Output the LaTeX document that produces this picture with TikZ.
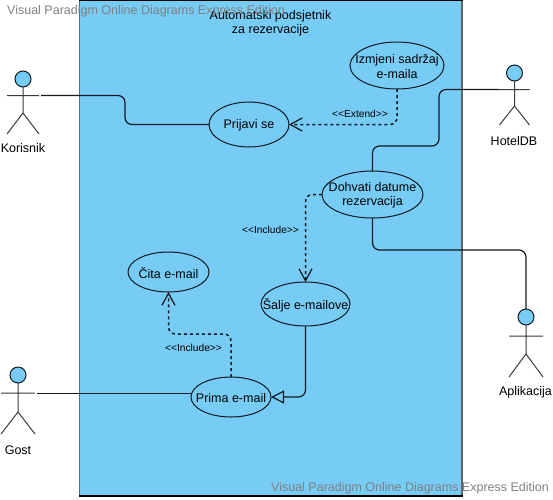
\documentclass[tikz,border=0pt]{standalone}
\usepackage{fontspec}
\newfontfamily\lab{Liberation Sans}
\usetikzlibrary{shapes.geometric,arrows.meta}
\definecolor{sysblue}{HTML}{77CCF5}
\definecolor{inkc}{HTML}{101820}
\definecolor{markc}{HTML}{808080}
\tikzset{
  x=1pt,y=-1pt,
  txt/.style={inner sep=0pt,align=center,text=black,yshift=-1pt,font=\lab\fontsize{12.5}{14.5}\selectfont},
  uc/.style={draw=inkc,fill=sysblue,ellipse,line width=1pt,inner sep=0pt,outer sep=0pt},
  stereo/.style={inner sep=0pt,text=black,font=\lab\fontsize{10.2}{11}\selectfont},
  wm/.style={inner sep=0pt,anchor=west,text=markc,font=\lab\fontsize{12.5}{14}\selectfont},
  assoc/.style={draw=inkc,line width=1.2pt,rounded corners=7pt},
  dep/.style={assoc,line width=1.5pt,dash pattern=on 3pt off 3pt,-{Straight Barb[length=12pt,width=13pt,line width=1.2pt]}},
  gener/.style={assoc,-{Triangle[open,length=13pt,width=13pt,fill=sysblue,line width=1.2pt]}},
  pics/actor/.style n args={4}{code={
    \node[circle,draw=inkc,fill=sysblue,line width=1pt,minimum size=16pt,inner sep=0pt,outer sep=0pt] (-head) at (0,0) {};
    \coordinate (-l) at (-#4,#1);
    \coordinate (-r) at (#4,#1);
    \coordinate (-c) at (0,#2);
    \coordinate (-fl) at (-#4,#3);
    \coordinate (-fr) at (#4,#3);
    \draw[draw=inkc!85!white,line width=1pt] (-head.south) -- (-c) (-l) -- (-r) (-fl) -- (-c) -- (-fr);
  }}
}
\begin{document}
\begin{tikzpicture}
\useasboundingbox (0,0) rectangle (553,499);
% system boundary
\fill[sysblue] (79.5,0) rectangle (462,496);
\draw[draw=black!60,line width=1.2pt] (79.5,0) -- (79.5,496) (462,0) -- (462,496);
\draw[black,line width=1.2pt] (79,0.3) -- (462.5,0.3) (79,496) -- (462.5,496);
\node[txt] (title) at (270.5,22.5) {Automatski podsjetnik\\za rezervacije};
% use cases
\node[uc,minimum width=80pt,minimum height=45pt,label={[txt]center:Prijavi se}] (prijavi) at (249,124.5) {};
\node[uc,minimum width=94pt,minimum height=47pt,label={[txt]center:Izmjeni sadržaj\\e-maila}] (izmjeni) at (397,65.5) {};
\node[uc,minimum width=101pt,minimum height=47pt,label={[txt]center:Dohvati datume\\rezervacija}] (dohvati) at (372.5,194.5) {};
\node[uc,minimum width=89pt,minimum height=44pt,label={[txt]center:Šalje e-mailove}] (salje) at (305.5,304) {};
\node[uc,minimum width=81pt,minimum height=40pt,label={[txt]center:Čita e-mail}] (cita) at (168.5,272) {};
\node[uc,minimum width=80pt,minimum height=40pt,label={[txt]center:Prima e-mail}] (prima) at (231,397) {};
% actors
\pic (kor) at (23,79) {actor={16.5}{34}{55}{16}};
\pic (hot) at (514.5,73) {actor={16.5}{33}{52}{15}};
\pic (apl) at (526,317) {actor={19}{37}{60}{17}};
\pic (gos) at (18,375) {actor={18}{37}{59}{17}};
\node[txt] (korl) at (23,147) {Korisnik};
\node[txt] (hotl) at (514,140) {HotelDB};
\node[txt] (apll) at (525.5,391) {Aplikacija};
\node[txt] (gosl) at (18,449) {Gost};
% bend points
\coordinate (b1) at (125,110);
\coordinate (h1) at (439,118);
\coordinate (h2) at (405,146);
\coordinate (a1) at (450,250);
\coordinate (m1) at (200,334);
\coordinate (kors) at ([xshift=2pt]kor-r);
\coordinate (goss) at ([xshift=2pt]gos-r);
% associations
\draw[assoc] (kors) -| (b1) |- (prijavi.west);
\draw[assoc] (hot-l) -| (h1) |- (h2) -| (dohvati.north);
\draw[assoc] (dohvati.south) |- (a1) -| (apl-head.north);
\draw[assoc,line width=1pt] (goss) -- (prima.west |- goss);
% relations
\draw[gener] (salje.south) |- (prima.east);
\draw[dep] (dohvati.west) -| (salje.north);
\draw[dep] (izmjeni.south) |- (prijavi.east);
\draw[dep] (prima.north) |- (m1) -| (cita.south);
\node[stereo] (s1) at (360,114) {<<Extend>>};
\node[stereo] (s2) at (270.5,230) {<<Include>>};
\node[stereo] (s3) at (193.5,348) {<<Include>>};
% watermark
\node[wm] (w1) at (7,11.5) {Visual Paradigm Online Diagrams Express Edition};
\node[wm] (w2) at (271,488.5) {Visual Paradigm Online Diagrams Express Edition};
\end{tikzpicture}
\end{document}
